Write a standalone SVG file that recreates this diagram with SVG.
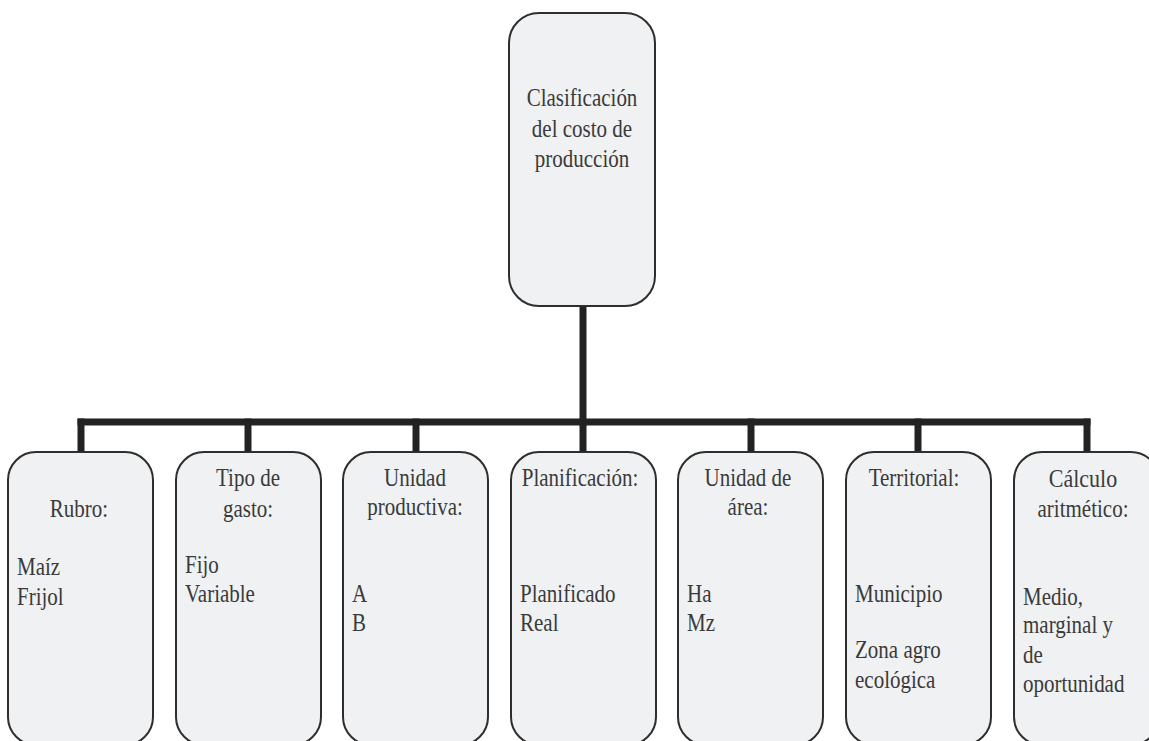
<svg xmlns="http://www.w3.org/2000/svg" width="1149" height="741" viewBox="0 0 1149 741">
<style>
.box{fill:#f0f1f3;stroke:#2e2e2e;stroke-width:2}
.t{font-family:"Liberation Serif","Times New Roman",serif;font-size:21px;fill:#3a3a3a}
.c{text-anchor:middle}
.con{stroke:#222;stroke-width:7;fill:none;stroke-linecap:square}
</style>
<rect width="1149" height="741" fill="#fff"/>
<g id="connectors">
<line class="con" x1="583" y1="307" x2="583" y2="422"/>
<line class="con" x1="81" y1="422" x2="1087" y2="422"/>
<line class="con" x1="81" y1="422" x2="81" y2="451"/>
<line class="con" x1="248" y1="422" x2="248" y2="451"/>
<line class="con" x1="416" y1="422" x2="416" y2="451"/>
<line class="con" x1="583" y1="422" x2="583" y2="451"/>
<line class="con" x1="751" y1="422" x2="751" y2="451"/>
<line class="con" x1="918" y1="422" x2="918" y2="451"/>
<line class="con" x1="1087" y1="422" x2="1087" y2="451"/>
</g>
<g id="root">
<rect class="box" x="509" y="13" width="146" height="293" rx="30"/>
<text class="t c" transform="translate(582,106) scale(1,1.17)">Clasificación</text>
<text class="t c" transform="translate(582,137) scale(1,1.17)">del costo de</text>
<text class="t c" transform="translate(582,167) scale(1,1.17)">producción</text>
</g>
<g id="rubro">
<rect class="box" x="8" y="452" width="145" height="293" rx="28"/>
<text class="t c" transform="translate(79,517) scale(1,1.17)">Rubro:</text>
<text class="t" transform="translate(17,575) scale(1,1.17)">Maíz</text>
<text class="t" transform="translate(17,605) scale(1,1.17)">Frijol</text>
</g>
<g id="tipo">
<rect class="box" x="176" y="452" width="145" height="293" rx="28"/>
<text class="t c" transform="translate(248,486) scale(1,1.17)">Tipo de</text>
<text class="t c" transform="translate(248,517) scale(1,1.17)">gasto:</text>
<text class="t" transform="translate(185,573) scale(1,1.17)">Fijo</text>
<text class="t" transform="translate(185,602) scale(1,1.17)">Variable</text>
</g>
<g id="unidad-productiva">
<rect class="box" x="343" y="452" width="145" height="293" rx="28"/>
<text class="t c" transform="translate(415,486) scale(1,1.17)">Unidad</text>
<text class="t c" transform="translate(415,515) scale(1,1.17)">productiva:</text>
<text class="t" transform="translate(352,602) scale(1,1.17)">A</text>
<text class="t" transform="translate(352,631) scale(1,1.17)">B</text>
</g>
<g id="planificacion">
<rect class="box" x="511" y="452" width="145" height="293" rx="28"/>
<text class="t c" transform="translate(580,486) scale(1,1.17)">Planificación:</text>
<text class="t" transform="translate(520,602) scale(1,1.17)">Planificado</text>
<text class="t" transform="translate(520,631) scale(1,1.17)">Real</text>
</g>
<g id="unidad-area">
<rect class="box" x="678" y="452" width="145" height="293" rx="28"/>
<text class="t c" transform="translate(748,486) scale(1,1.17)">Unidad de</text>
<text class="t c" transform="translate(748,515) scale(1,1.17)">área:</text>
<text class="t" transform="translate(687,602) scale(1,1.17)">Ha</text>
<text class="t" transform="translate(687,631) scale(1,1.17)">Mz</text>
</g>
<g id="territorial">
<rect class="box" x="846" y="452" width="145" height="293" rx="28"/>
<text class="t c" transform="translate(914,486) scale(1,1.17)">Territorial:</text>
<text class="t" transform="translate(855,602) scale(1,1.17)">Municipio</text>
<text class="t" transform="translate(855,658) scale(1,1.17)">Zona agro</text>
<text class="t" transform="translate(855,688) scale(1,1.17)">ecológica</text>
</g>
<g id="calculo">
<rect class="box" x="1014" y="452" width="145" height="293" rx="28"/>
<text class="t c" style="font-size:22px" transform="translate(1083,487) scale(1,1.17)">Cálculo</text>
<text class="t c" transform="translate(1083,517) scale(1,1.17)">aritmético:</text>
<text class="t" transform="translate(1023,605) scale(1,1.17)">Medio,</text>
<text class="t" transform="translate(1023,633) scale(1,1.17)">marginal y</text>
<text class="t" transform="translate(1023,663) scale(1,1.17)">de</text>
<text class="t" transform="translate(1023,692) scale(1,1.17)">oportunidad</text>
</g>
</svg>
